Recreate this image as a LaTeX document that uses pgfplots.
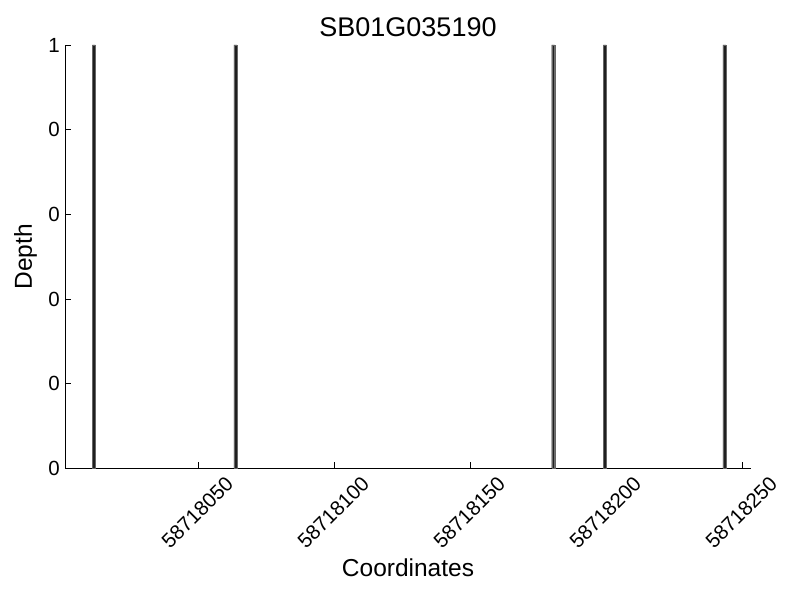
\documentclass[border=0pt]{standalone}
\usepackage{fontspec}
\setmainfont{Liberation Sans}
\usepackage{pgfplots}
\pgfplotsset{compat=1.18}
\begin{document}
\begin{tikzpicture}
\useasboundingbox (-65.3pt,-131.7pt) rectangle (734.7pt,468.3pt);
\begin{axis}[
  at={(0pt,0pt)}, anchor=south west,
  scale only axis, width=685.4pt, height=423.3pt,
  xmin=1.1, xmax=253.1, ymin=0, ymax=1,
  axis x line*=bottom, axis y line*=left,
  axis line style={line width=1.1pt, -},
  tick align=inside, major tick length=6pt,
  tick style={line width=0.6pt, black},
  xtick={50,100,150,200,250},
  xticklabels={58718050,58718100,58718150,58718200,58718250},
  ytick={0,0.2,0.4,0.6,0.8,1},
  yticklabels={0,0,0,0,0,1},
  /pgf/number format/assume math mode=true,
  ticklabel style={font=\fontsize{20.5}{23}\selectfont},
  xticklabel style={anchor=center, yshift=-44pt, xshift=-1pt, rotate=45},
  yticklabel style={xshift=-2pt},
  xlabel={Coordinates}, ylabel={Depth},
  label style={font=\fontsize{24.5}{27}\selectfont},
  xlabel style={at={(axis description cs:0.5,-0.236)}, anchor=center},
  ylabel style={at={(axis description cs:-0.058,0.5)}, anchor=center, rotate=0},
  title={SB01G035190},
  title style={font=\fontsize{27}{30}\selectfont, at={(axis description cs:0.5,1.028)}, anchor=center},
  clip=false,
]
\addplot[ybar, bar width=1.1, fill=black!88, draw=black!60, line width=0.3pt] coordinates {
  (11.6,1) (63.6,1) (180.5,1) (199.5,1) (243.4,1)
};
\end{axis}
\end{tikzpicture}
\end{document}
